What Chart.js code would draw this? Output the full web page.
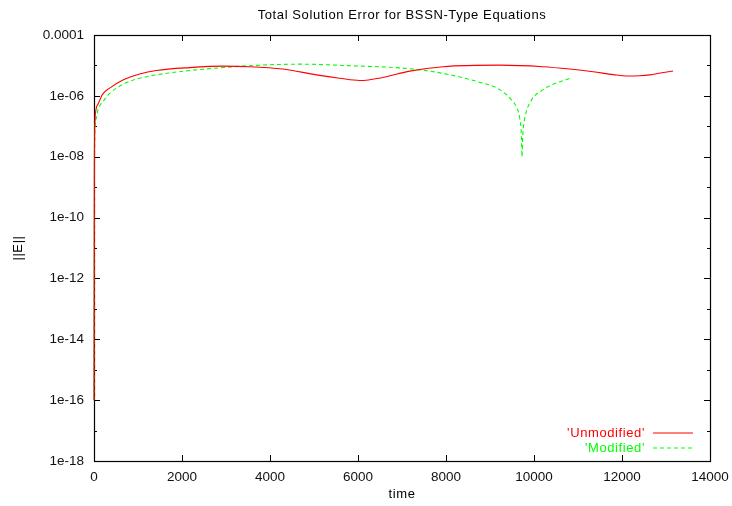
<!DOCTYPE html>
<html lang="en">
<head>
<meta charset="UTF-8">
<title>Total Solution Error for BSSN-Type Equations</title>
<script src="https://cdn.jsdelivr.net/npm/chart.js"></script>
<style>
  html, body { margin: 0; padding: 0; background: #fff; }
  #wrap { width: 732px; height: 506px; }
</style>
</head>
<body>
<div id="wrap"><canvas id="myChart" width="732" height="506"></canvas></div>

<script>
// data
const timeUnmod = [0, 8, 20, 45, 100, 190, 357, 659, 1039, 1418, 2175, 2932, 3539, 4289, 5055, 5585, 6040, 6560, 7176, 7933, 9222, 10200, 10813, 11343, 11800, 12102, 12400, 12631, 13161];
const errUnmod  = [1e-16, 3e-9, 1.2e-7, 3.5e-7, 5.6e-7, 1.1e-6, 1.8e-6, 3.3e-6, 5.2e-6, 6.8e-6, 8.5e-6, 9.5e-6, 9.1e-6, 7.6e-6, 4.9e-6, 3.8e-6, 3.2e-6, 4.0e-6, 6.5e-6, 9.1e-6, 1.02e-5, 9.1e-6, 7.6e-6, 6.2e-6, 5.0e-6, 4.5e-6, 4.6e-6, 4.9e-6, 6.6e-6];

const timeMod = [0, 8, 25, 50, 91, 205, 357, 659, 1039, 1418, 2175, 2932, 3539, 4675, 5812, 7176, 7926, 8692, 9222, 9517, 9600, 9676, 9715, 9728, 9745, 9790, 9904, 10206, 10813];
const errMod  = [1e-16, 1e-10, 9e-8, 1.8e-7, 3.5e-7, 6.5e-7, 1.2e-6, 2.4e-6, 3.8e-6, 4.9e-6, 6.8e-6, 8.5e-6, 9.8e-6, 1.1e-5, 9.8e-6, 7.8e-6, 5.5e-6, 3.0e-6, 1.6e-6, 6.6e-7, 4.3e-7, 1.8e-7, 4.5e-8, 1e-8, 5e-8, 1.8e-7, 5.8e-7, 1.6e-6, 3.8e-6];

const xTicks = [0, 2000, 4000, 6000, 8000, 10000, 12000, 14000];
const yExponents = [-18, -17, -16, -15, -14, -13, -12, -11, -10, -9, -8, -7, -6, -5, -4];

const chartTitle = 'Total Solution Error for BSSN-Type Equations';
const xTitle = 'time';
const yTitle = '||E||';
const seriesNames = ["'Unmodified'", "'Modified'"];
const seriesColors = ['#ff0000', '#00ff00'];

const FONT = '"Liberation Sans", Arial, Helvetica, sans-serif';

function toPoints(ts, vs) {
    return ts.map((t, i) => ({ x: t, y: vs[i] }));
}

function yLabel(v) {
    const e = Math.round(Math.log10(v));
    if (e % 2 !== 0) return '';
    if (e === -4) return '0.0001';
    return '1e-' + String(-e).padStart(2, '0');
}

// frame + inward ticks under the curves, titles + legend on top (gnuplot look)
const gnuplotFrame = {
    id: 'gnuplotFrame',
    beforeDatasetsDraw(chart) {
        const ctx = chart.ctx;
        const a = chart.chartArea;
        const xs = chart.scales.x, ys = chart.scales.y;
        ctx.save();
        ctx.strokeStyle = '#000';
        ctx.lineWidth = 1;
        ctx.beginPath();
        xTicks.forEach(v => {
            const px = Math.round(xs.getPixelForValue(v)) + 0.5;
            ctx.moveTo(px, a.bottom); ctx.lineTo(px, a.bottom - 6);
            ctx.moveTo(px, a.top); ctx.lineTo(px, a.top + 6);
        });
        yExponents.forEach(e => {
            const py = Math.round(ys.getPixelForValue(Math.pow(10, e))) + 0.5;
            const len = (e % 2 === 0) ? 6 : 3;
            ctx.moveTo(a.left, py); ctx.lineTo(a.left + len, py);
            ctx.moveTo(a.right, py); ctx.lineTo(a.right - len, py);
        });
        ctx.stroke();
        ctx.lineWidth = 1.2;
        ctx.strokeRect(Math.round(a.left) + 0.5, Math.round(a.top) + 0.5,
                       Math.round(a.right - a.left), Math.round(a.bottom - a.top));
        ctx.restore();
    },
    afterDraw(chart) {
        const ctx = chart.ctx;
        const a = chart.chartArea;
        ctx.save();
        ctx.fillStyle = '#000';
        ctx.font = '13px ' + FONT;
        ctx.letterSpacing = '0.6px';
        ctx.textAlign = 'center';
        ctx.textBaseline = 'middle';
        const cx = (a.left + a.right) / 2;
        ctx.fillText(chartTitle, cx, 15);
        ctx.fillText(xTitle, cx, 494);
        ctx.save();
        ctx.translate(18, (a.top + a.bottom) / 2);
        ctx.rotate(-Math.PI / 2);
        ctx.fillText(yTitle, 0, 0);
        ctx.restore();

        // legend
        ctx.textAlign = 'right';
        const legY = [433, 448];
        seriesNames.forEach((name, i) => {
            ctx.fillStyle = seriesColors[i];
            ctx.fillText(name, 645, legY[i]);
            ctx.strokeStyle = seriesColors[i];
            ctx.lineWidth = 1.2;
            ctx.setLineDash(i === 1 ? [4, 3] : []);
            ctx.beginPath();
            ctx.moveTo(653, legY[i]);
            ctx.lineTo(693, legY[i]);
            ctx.stroke();
        });
        ctx.setLineDash([]);
        ctx.letterSpacing = '0px';
        ctx.restore();
    }
};

const ctx = document.getElementById('myChart').getContext('2d');
new Chart(ctx, {
    type: 'line',
    data: {
        datasets: [{
            label: seriesNames[0],
            data: toPoints(timeUnmod, errUnmod),
            borderColor: seriesColors[0],
            borderWidth: 1.1,
            pointRadius: 0,
            cubicInterpolationMode: 'monotone',
            clip: false,
            fill: false
        }, {
            label: seriesNames[1],
            data: toPoints(timeMod, errMod),
            borderColor: seriesColors[1],
            borderWidth: 1.1,
            borderDash: [4, 3],
            pointRadius: 0,
            cubicInterpolationMode: 'monotone',
            clip: false,
            fill: false
        }]
    },
    options: {
        responsive: false,
        animation: false,
        events: [],
        layout: { padding: { left: 0, right: 22, top: 35, bottom: 0 } },
        plugins: { legend: { display: false }, title: { display: false }, tooltip: { enabled: false } },
        scales: {
            x: {
                type: 'linear',
                min: 0, max: 14000,
                grid: { display: false },
                border: { display: false },
                afterBuildTicks: s => { s.ticks = xTicks.map(v => ({ value: v })); },
                afterFit: s => { s.height = 45; },
                ticks: {
                    padding: 0,
                    color: '#111',
                    font: { family: FONT, size: 13.5 },
                    maxRotation: 0,
                    autoSkip: false,
                    callback: v => String(v)
                }
            },
            y: {
                type: 'logarithmic',
                min: 1e-18, max: 1e-4,
                grid: { display: false },
                border: { display: false },
                afterBuildTicks: s => { s.ticks = yExponents.map(e => ({ value: Math.pow(10, e) })); },
                afterFit: s => { s.width = 94; },
                ticks: {
                    padding: 2,
                    color: '#111',
                    font: { family: FONT, size: 13.5 },
                    autoSkip: false,
                    callback: v => yLabel(v)
                }
            }
        }
    },
    plugins: [gnuplotFrame]
});
</script>
</body>
</html>
